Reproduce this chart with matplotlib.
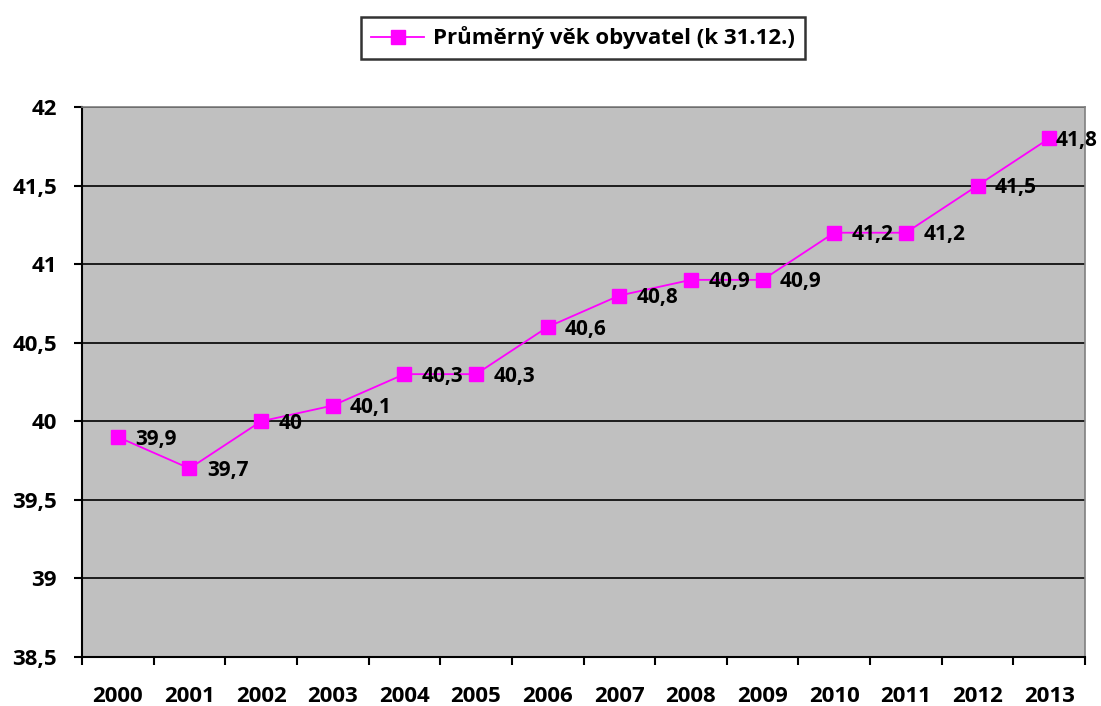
import matplotlib
matplotlib.use("Agg")
import matplotlib.pyplot as plt

years = ["2000", "2001", "2002", "2003", "2004", "2005", "2006",
         "2007", "2008", "2009", "2010", "2011", "2012", "2013"]
values = [39.9, 39.7, 40.0, 40.1, 40.3, 40.3, 40.6,
          40.8, 40.9, 40.9, 41.2, 41.2, 41.5, 41.8]
series_name = "Průměrný věk obyvatel (k 31.12.)"
y_ticks = [38.5, 39, 39.5, 40, 40.5, 41, 41.5, 42]

plt.rcParams['font.family'] = ['Open Sans', 'DejaVu Sans']
plt.rcParams['font.weight'] = 'bold'

W, H = 1101, 706
fig = plt.figure(figsize=(W / 100, H / 100), dpi=100)
ax = fig.add_axes([82 / W, 1 - 657 / H, (1085 - 82) / W, (657 - 107) / H])
ax.set_facecolor('#C0C0C0')

x = list(range(len(years)))
line, = ax.plot(x, values, color='#FF00FF', lw=1.3, marker='s', markersize=9.5,
                markerfacecolor='#FF00FF', markeredgecolor='#FF00FF',
                label=series_name, zorder=3)

def fmt(v):
    s = f"{v:g}"
    return s.replace('.', ',')

labels = []
for xi, v in zip(x, values):
    a = ax.annotate(fmt(v), (xi, v), xytext=(12.5, -1.5), textcoords='offset points',
                    ha='left', va='center', fontsize=15, fontweight='bold', zorder=4)
    labels.append(a)

ax.set_xlim(-0.5, len(years) - 0.5)
ax.set_ylim(38.5, 42)
ax.set_yticks(y_ticks)
ax.set_yticklabels([fmt(t) for t in y_ticks], fontsize=16, fontweight='bold')
ax.yaxis.grid(True, color='black', lw=1.2)
ax.set_axisbelow(True)

ax.set_xticks([i - 0.5 for i in range(len(years) + 1)])
ax.set_xticklabels([])
ax.set_xticks(x, minor=True)
ax.set_xticklabels(years, minor=True, fontsize=16, fontweight='bold')
ax.tick_params(axis='x', which='major', direction='out', length=6, width=1.5, color='black')
ax.tick_params(axis='x', which='minor', length=0, pad=21)
ax.tick_params(axis='y', direction='out', length=6, width=1.5, pad=12)

for s in ['left', 'bottom']:
    ax.spines[s].set_color('black')
    ax.spines[s].set_linewidth(1.5)
for s in ['top', 'right']:
    ax.spines[s].set_color('#808080')
    ax.spines[s].set_linewidth(1.2)

leg = fig.legend(handles=[line], loc='center', bbox_to_anchor=(583 / W, 1 - 38 / H),
                 fontsize=16, frameon=True, fancybox=False, edgecolor='black',
                 handlelength=2.4, borderpad=0.45, handletextpad=0.4)
leg.get_frame().set_linewidth(1.8)
for t in leg.get_texts():
    t.set_fontweight('bold')

# keep data labels inside the figure (shift left if they overflow, like Excel)
fig.canvas.draw()
renderer = fig.canvas.get_renderer()
for a in labels:
    bb = a.get_window_extent(renderer)
    overflow = bb.x1 - (W - 3)
    if overflow > 0:
        dx, dy = a.xyann
        a.xyann = (dx - overflow * 72 / 100, dy)

fig.savefig('out.png', dpi=100, facecolor='white')
